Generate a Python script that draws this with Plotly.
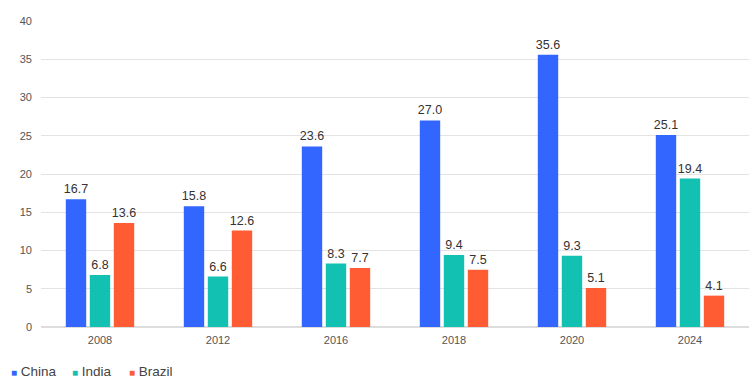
import plotly.graph_objects as go

years = ["2008", "2012", "2016", "2018", "2020", "2024"]
china = [16.7, 15.8, 23.6, 27.0, 35.6, 25.1]
india = [6.8, 6.6, 8.3, 9.4, 9.3, 19.4]
brazil = [13.6, 12.6, 7.7, 7.5, 5.1, 4.1]

series = [("China", china, "#3366ff"), ("India", india, "#13c1b2"), ("Brazil", brazil, "#ff5c33")]

fig = go.Figure()
for name, vals, col in series:
    fig.add_trace(go.Bar(
        x=years, y=vals, name=name, showlegend=False,
        marker=dict(color=col, line=dict(width=0)),
        text=[f"{v:.1f}" for v in vals], textposition="outside",
        textfont=dict(size=12.5, color="#333333"), cliponaxis=False,
        constraintext="none",
    ))

# legend drawn as text entries at the bottom left
legend_x = [-0.045, 0.041, 0.121]
for (name, vals, col), lx in zip(series, legend_x):
    fig.add_annotation(
        xref="paper", yref="paper", x=lx, y=-0.145, xanchor="left", yanchor="middle",
        showarrow=False,
        text=f'<span style="color:{col};font-size:10px">■</span> {name}',
        font=dict(size=13.5, color="#444444"),
    )

fig.update_layout(
    width=750, height=388,
    margin=dict(l=41, r=1, t=21, b=61, autoexpand=False),
    paper_bgcolor="white", plot_bgcolor="white",
    font=dict(family="Liberation Sans, Arial, sans-serif", color="#555555"),
    barmode="group", bargap=0.39, bargroupgap=0.15,
    showlegend=False,
)
fig.update_xaxes(type="category", showgrid=False, showline=False, ticks="",
                 tickfont=dict(size=11, color="#555555"), ticklabelstandoff=5,
                 automargin=False)
fig.update_yaxes(range=[0, 40], dtick=5, showgrid=True, gridcolor="#e3e3e3",
                 zeroline=True, zerolinecolor="#dddddd", showline=False,
                 tickfont=dict(size=11, color="#555555"), ticklabelstandoff=8,
                 automargin=False)

fig.write_html("out.html", config={"displayModeBar": False},
               post_script="document.body.style.margin='0';")
